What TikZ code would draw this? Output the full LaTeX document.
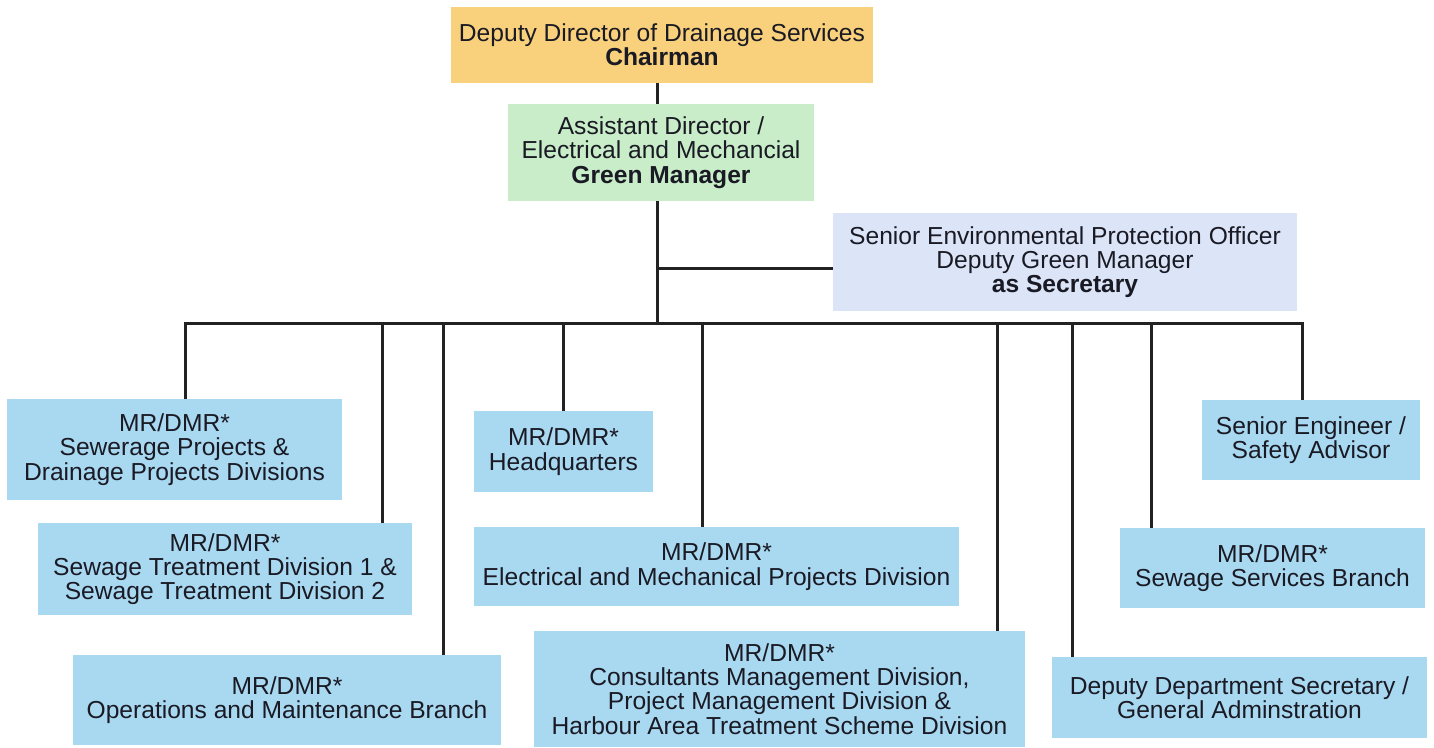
\documentclass[tikz,border=0pt]{standalone}
\usepackage{fontspec}
\setmainfont{Liberation Sans}
\definecolor{cOrange}{HTML}{F9D17C}
\definecolor{cGreen}{HTML}{C8EDC8}
\definecolor{cLav}{HTML}{DCE5F8}
\definecolor{cBlue}{HTML}{A9D8F1}
\definecolor{cLine}{HTML}{222222}
\definecolor{cText}{HTML}{1A1A24}
\begin{document}
\begin{tikzpicture}[x=1pt,y=-1pt,
  box/.style={rectangle, inner sep=0pt, align=center, text=cText,
    font=\fontsize{24.6}{24.3}\selectfont},
  bluebox/.style={box, fill=cBlue},
  conn/.style={draw=cLine, line width=3pt}]
\useasboundingbox (0,0) rectangle (1434,747);
\fill[white] (0,0) rectangle (1434,747);
% top level
\node[box, fill=cOrange, minimum width=422pt, minimum height=76pt] (top) at (662,45)
  {Deputy Director of Drainage Services\\\textbf{Chairman}};
\node[box, fill=cGreen, minimum width=306pt, minimum height=97pt] (green) at (661,152.5)
  {Assistant Director /\\Electrical and Mechancial\\\textbf{Green Manager}};
\node[box, fill=cLav, minimum width=464pt, minimum height=98pt] (sec) at (1065,262)
  {Senior Environmental Protection Officer\\Deputy Green Manager\\\textbf{as Secretary}};
% lower boxes
\node[bluebox, minimum width=335pt, minimum height=101pt] (b1) at (174.5,449.5)
  {MR/DMR*\\Sewerage Projects \&\\Drainage Projects Divisions};
\node[bluebox, minimum width=374pt, minimum height=92pt] (b2) at (225,569)
  {MR/DMR*\\Sewage Treatment Division 1 \&\\Sewage Treatment Division 2};
\node[bluebox, minimum width=428pt, minimum height=90pt] (b3) at (287,700)
  {MR/DMR*\\Operations and Maintenance Branch};
\node[bluebox, minimum width=179pt, minimum height=81pt] (hq) at (563.5,451.5)
  {MR/DMR*\\Headquarters};
\node[bluebox, minimum width=485pt, minimum height=79pt] (em) at (716.5,566.5)
  {MR/DMR*\\Electrical and Mechanical Projects Division};
\node[bluebox, minimum width=491pt, minimum height=116pt] (cm) at (779.5,689)
  {MR/DMR*\\Consultants Management Division,\\Project Management Division \&\\Harbour Area Treatment Scheme Division};
\node[bluebox, minimum width=375pt, minimum height=81pt] (dds) at (1239.5,697.5)
  {Deputy Department Secretary /\\General Adminstration};
\node[bluebox, minimum width=305pt, minimum height=80pt] (ss) at (1272.5,568)
  {MR/DMR*\\Sewage Services Branch};
\node[bluebox, minimum width=218pt, minimum height=80pt] (se) at (1311,440)
  {Senior Engineer /\\Safety Advisor};
% connectors
\coordinate (j) at (657,268);
\coordinate (busL) at (185,323);
\coordinate (busR) at (1302,323);
\coordinate (busC) at (657,323);
\draw[conn] (top.south -| j) -- (green.north -| j);
\draw[conn] (green.south -| j) -- (busC);
\draw[conn] (j) -- (j -| sec.west);
\draw[conn, line cap=rect] (busL) -- (busR);
\coordinate (d1) at (185,323);
\coordinate (d2) at (382,323);
\coordinate (d3) at (443,323);
\coordinate (d4) at (563,323);
\coordinate (d5) at (702,323);
\coordinate (d6) at (997,323);
\coordinate (d7) at (1072,323);
\coordinate (d8) at (1151,323);
\coordinate (d9) at (1302,323);
\draw[conn] (d1) -- (d1 |- b1.north);
\draw[conn] (d2) -- (d2 |- b2.north);
\draw[conn] (d3) -- (d3 |- b3.north);
\draw[conn] (d4) -- (d4 |- hq.north);
\draw[conn] (d5) -- (d5 |- em.north);
\draw[conn] (d6) -- (d6 |- cm.north);
\draw[conn] (d7) -- (d7 |- dds.north);
\draw[conn] (d8) -- (d8 |- ss.north);
\draw[conn] (d9) -- (d9 |- se.north);
\end{tikzpicture}
\end{document}
